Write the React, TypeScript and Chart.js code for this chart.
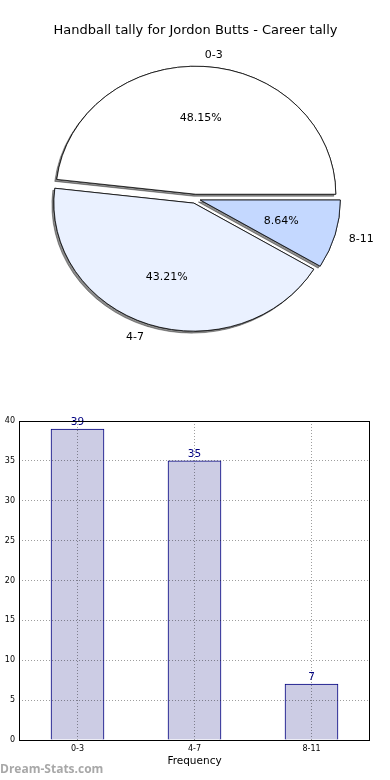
import React, { useEffect, useRef } from 'react';
import { Chart, registerables } from 'chart.js';

Chart.register(...registerables);

// ---- data ----
const chartTitle = 'Handball tally for Jordon Butts - Career tally';
const categories = ['0-3', '4-7', '8-11'];
const tallies = [39, 35, 7];
const pieColors = ['#ffffff', '#eaf1ff', '#c4d8ff'];
const yMin = 0;
const yMax = 40;
const yStep = 5;
const xAxisTitle = 'Frequency';
const watermark = 'Dream-Stats.com';

// ---- styles ----
const FONT = "'DejaVu Sans', 'Liberation Sans', sans-serif";
const SY = 128 / 140; // vertical squash of the pie (non-equal aspect)
const EXPLODE = 5;
const GRID = 'rgba(0,0,0,0.38)';

const piePlugin = {
  id: 'mplPie',
  beforeDatasetsDraw(chart: any) {
    const ctx = chart.ctx;
    const arcs = chart.getDatasetMeta(0).data;
    if (!arcs.length) return;
    const cx = arcs[0].x;
    const cy = arcs[0].y;
    const pass = (shadow: boolean) => {
      arcs.forEach((arc: any) => {
        const mid = (arc.startAngle + arc.endAngle) / 2;
        ctx.save();
        if (shadow) {
          ctx.shadowColor = 'rgba(0,0,0,0.45)';
          ctx.shadowOffsetX = -2;
          ctx.shadowOffsetY = 2;
          ctx.shadowBlur = 0;
        }
        ctx.translate(cx, cy);
        ctx.scale(1, SY);
        ctx.translate(-cx, -cy);
        ctx.translate(Math.cos(mid) * EXPLODE, Math.sin(mid) * EXPLODE);
        arc.draw(ctx);
        ctx.restore();
      });
    };
    pass(true);
    pass(false);
    return false;
  },
  afterDraw(chart: any) {
    const ctx = chart.ctx;
    const arcs = chart.getDatasetMeta(0).data;
    const ds = chart.data.datasets[0];
    const total = ds.data.reduce((a: number, b: number) => a + b, 0);
    ctx.save();
    ctx.font = `11px ${FONT}`;
    ctx.fillStyle = '#000';
    ctx.textBaseline = 'middle';
    arcs.forEach((arc: any, i: number) => {
      const mid = (arc.startAngle + arc.endAngle) / 2;
      const R = arc.outerRadius;
      const c = Math.cos(mid);
      const s = Math.sin(mid);
      const ox = arc.x + c * EXPLODE;
      const oy = arc.y + s * EXPLODE * SY + 1;
      ctx.textAlign = c > 0 ? 'left' : 'right';
      ctx.fillText(chart.data.labels[i], ox + 1.1 * R * c, oy + 1.1 * R * s * SY);
      ctx.textAlign = 'center';
      const pct = ((ds.data[i] / total) * 100).toFixed(2) + '%';
      ctx.fillText(pct, ox + 0.6 * R * c, oy + 0.6 * R * s * SY);
    });
    ctx.restore();
  },
};

const barPlugin = {
  id: 'mplBar',
  afterDatasetsDraw(chart: any) {
    const ctx = chart.ctx;
    const bars = chart.getDatasetMeta(0).data;
    const ds = chart.data.datasets[0];
    ctx.save();
    ctx.font = `10.5px ${FONT}`;
    ctx.fillStyle = 'navy';
    ctx.textAlign = 'center';
    ctx.textBaseline = 'alphabetic';
    bars.forEach((bar: any, i: number) => {
      ctx.fillText(String(ds.data[i]), bar.x, bar.y - 4);
    });
    ctx.restore();
  },
  afterDraw(chart: any) {
    const ctx = chart.ctx;
    const a = chart.chartArea;
    ctx.save();
    ctx.strokeStyle = '#000';
    ctx.lineWidth = 1;
    ctx.strokeRect(Math.round(a.left) + 0.5, Math.round(a.top) + 0.5, Math.round(a.right - a.left) - 1, Math.round(a.bottom - a.top));
    ctx.font = `bold 12px 'Open Sans', sans-serif`;
    ctx.fillStyle = '#a8a8a8';
    ctx.textAlign = 'left';
    ctx.textBaseline = 'middle';
    ctx.fillText(watermark, 0, chart.height - 10);
    ctx.restore();
  },
};

export default function App() {
  const pieRef = useRef<HTMLCanvasElement>(null);
  const barRef = useRef<HTMLCanvasElement>(null);

  useEffect(() => {
    const pieLabels = [...categories].reverse();
    const pieData = [...tallies].reverse();
    const pieBg = [...pieColors].reverse();

    const pie = new Chart(pieRef.current!, {
      type: 'pie',
      data: {
        labels: pieLabels,
        datasets: [
          {
            data: pieData,
            backgroundColor: pieBg,
            borderColor: '#000',
            borderWidth: 0.8,
            borderAlign: 'center',
            borderJoinStyle: 'miter',
          } as any,
        ],
      },
      options: {
        responsive: false,
        animation: false,
        events: [],
        rotation: 90,
        radius: 140,
        layout: { padding: { left: 1, right: 0, top: 0, bottom: 31 } },
        plugins: {
          legend: { display: false },
          tooltip: { enabled: false },
          title: {
            display: true,
            text: chartTitle,
            color: '#000',
            font: { family: FONT, size: 13, weight: 'normal' },
            padding: { top: 23, bottom: 0 },
          },
        },
      } as any,
      plugins: [piePlugin],
    });

    const gridOpts = { color: GRID, lineWidth: 1, drawTicks: false, z: 1 };
    const bar = new Chart(barRef.current!, {
      type: 'bar',
      data: {
        labels: categories,
        datasets: [
          {
            data: tallies,
            backgroundColor: 'rgb(204,204,228)',
            borderColor: 'navy',
            borderWidth: 1,
            barThickness: 53,
          },
        ],
      },
      options: {
        responsive: false,
        animation: false,
        events: [],
        layout: { padding: { left: 0, right: 20, top: 31, bottom: 0 } },
        plugins: {
          legend: { display: false },
          tooltip: { enabled: false },
        },
        scales: {
          x: {
            offset: true,
            grid: { ...gridOpts, offset: false },
            border: { display: false, dash: [1, 2] },
            ticks: { color: '#000', font: { family: FONT, size: 8 }, padding: 4, maxRotation: 0 },
            title: {
              display: true,
              text: xAxisTitle,
              color: '#000',
              font: { family: FONT, size: 10.5 },
              padding: { top: 0, bottom: 12 },
            },
            afterFit(scale: any) {
              scale.height = 40;
            },
          },
          y: {
            min: yMin,
            max: yMax,
            grid: gridOpts,
            border: { display: false, dash: [1, 2] },
            ticks: { stepSize: yStep, color: '#000', font: { family: FONT, size: 8 }, padding: 4 },
            afterFit(scale: any) {
              scale.width = 19;
            },
          },
        },
      } as any,
      plugins: [barPlugin],
    });

    return () => {
      pie.destroy();
      bar.destroy();
    };
  }, []);

  return (
    <div style={{ position: 'absolute', left: 0, top: 0, width: 390, height: 780, background: '#fff' }}>
      <canvas ref={pieRef} width={390} height={390} style={{ display: 'block' }} />
      <canvas ref={barRef} width={390} height={390} style={{ display: 'block' }} />
    </div>
  );
}
